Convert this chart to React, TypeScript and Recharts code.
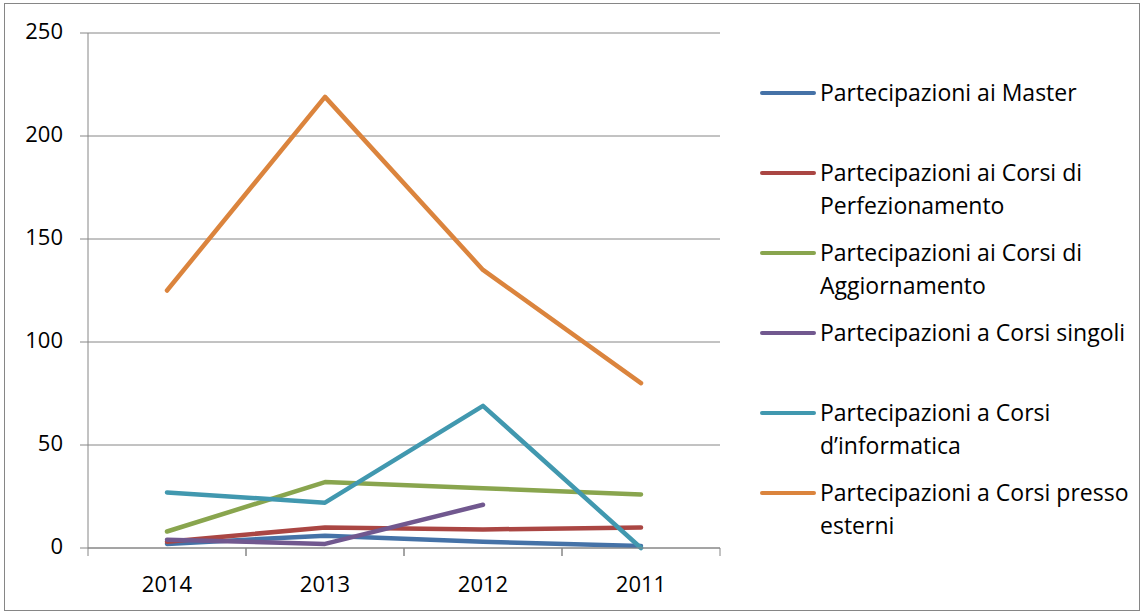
import { LineChart, Line, XAxis, YAxis, CartesianGrid } from 'recharts';

const categories = ['2014', '2013', '2012', '2011'];
const master = [2, 6, 3, 1];
const perfezionamento = [3, 10, 9, 10];
const aggiornamento = [8, 32, 29, 26];
const singoli = [4, 2, 21, null];
const informatica = [27, 22, 69, 0];
const esterni = [125, 219, 135, 80];
const yTicks = [0, 50, 100, 150, 200, 250];

const series = [
    { key: 'master', name: 'Partecipazioni ai Master', color: '#4572A7', values: master },
    { key: 'perfezionamento', name: 'Partecipazioni ai Corsi di Perfezionamento', color: '#AA4643', values: perfezionamento },
    { key: 'aggiornamento', name: 'Partecipazioni ai Corsi di Aggiornamento', color: '#89A54E', values: aggiornamento },
    { key: 'singoli', name: 'Partecipazioni a Corsi singoli', color: '#71588F', values: singoli },
    { key: 'informatica', name: 'Partecipazioni a Corsi d\u2019informatica', color: '#4198AF', values: informatica },
    { key: 'esterni', name: 'Partecipazioni a Corsi presso esterni', color: '#DB843D', values: esterni },
];

const data = categories.map((year, i) => {
    const row: Record<string, string | number | null> = { year };
    series.forEach(s => { row[s.key] = s.values[i]; });
    return row;
});

const W = 1144;
const H = 614;
const PLOT_LEFT = 88;
const PLOT_RIGHT = 720;
const PLOT_TOP = 33;
const PLOT_BOTTOM = 548;
const HALF_BAND = (PLOT_RIGHT - PLOT_LEFT) / categories.length / 2;
const GRAY = '#868686';
const FONT = '"Open Sans", sans-serif';

// category label in the middle, tick marks on the band edges (Excel style)
function XTick(props: any) {
    const { x, y, payload } = props;
    return (
        <g>
            <line x1={x - HALF_BAND} x2={x - HALF_BAND} y1={y} y2={y + 8} stroke={GRAY} />
            <line x1={x + HALF_BAND} x2={x + HALF_BAND} y1={y} y2={y + 8} stroke={GRAY} />
            <text x={x} y={y + 44} textAnchor="middle" fontSize={22} fill="#000" fontFamily={FONT}>
                {payload.value}
            </text>
        </g>
    );
}

export default function App() {
    return (
        <div style={{ position: 'absolute', left: 0, top: 0, width: W, height: H, background: '#fff', fontFamily: FONT }}>
            <div style={{ position: 'absolute', left: 4, top: 3, width: 1134, height: 606, border: `1px solid ${GRAY}` }} />

            <LineChart
                width={W}
                height={H}
                data={data}
                margin={{ top: PLOT_TOP, right: W - PLOT_RIGHT, bottom: H - PLOT_BOTTOM - 40, left: 8 }}
                style={{ position: 'absolute', left: 0, top: 0 }}
            >
                <CartesianGrid vertical={false} stroke={GRAY} />
                <XAxis
                    dataKey="year"
                    height={40}
                    padding={{ left: HALF_BAND, right: HALF_BAND }}
                    axisLine={{ stroke: GRAY }}
                    tickLine={false}
                    tickSize={0}
                    tickMargin={0}
                    tick={<XTick />}
                    interval={0}
                />
                <YAxis
                    width={80}
                    domain={[0, 250]}
                    ticks={yTicks}
                    axisLine={{ stroke: GRAY }}
                    tickLine={{ stroke: GRAY }}
                    tickSize={8}
                    tickMargin={17}
                    tick={{ fontSize: 22, fill: '#000', fontFamily: FONT, dy: -2 }}
                />
                {series.map(s => (
                    <Line
                        key={s.key}
                        dataKey={s.key}
                        name={s.name}
                        stroke={s.color}
                        strokeWidth={4.5}
                        strokeLinecap="round"
                        strokeLinejoin="round"
                        dot={false}
                        activeDot={false}
                        isAnimationActive={false}
                    />
                ))}
            </LineChart>

            {/* Legend */}
            <div style={{ position: 'absolute', left: 760, top: 76, width: 384 }}>
                {series.map(s => (
                    <div key={s.key} style={{ display: 'flex', alignItems: 'flex-start', height: 80 }}>
                        <div style={{ width: 56, height: 4, borderRadius: 2, background: s.color, marginTop: 15, marginRight: 4, flexShrink: 0 }} />
                        <div style={{ width: 320, fontSize: 23, lineHeight: '33px', marginTop: 0, color: '#000' }}>{s.name}</div>
                    </div>
                ))}
            </div>
        </div>
    );
}
